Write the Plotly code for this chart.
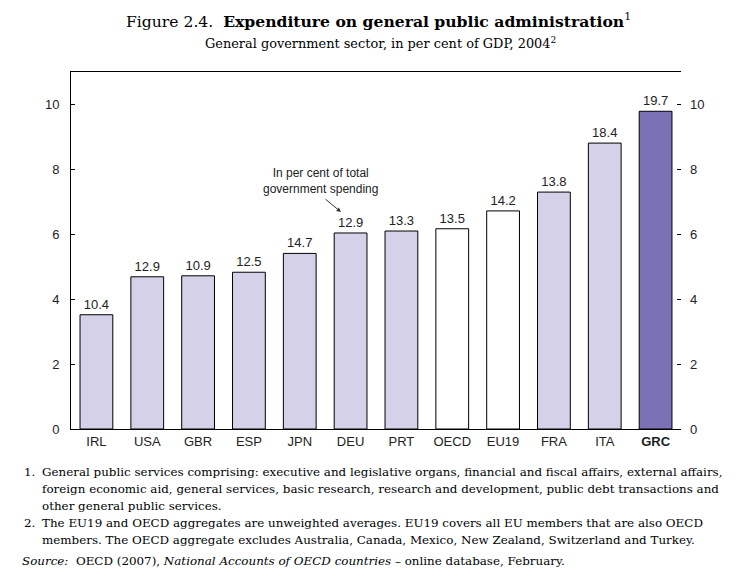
import plotly.graph_objects as go

countries = ["IRL", "USA", "GBR", "ESP", "JPN", "DEU", "PRT", "OECD", "EU19", "FRA", "ITA", "GRC"]
gdp_share = [3.52, 4.69, 4.72, 4.83, 5.41, 6.04, 6.10, 6.17, 6.72, 7.30, 8.81, 9.79]
spending_share = ["10.4", "12.9", "10.9", "12.5", "14.7", "12.9", "13.3", "13.5", "14.2", "13.8", "18.4", "19.7"]
tick_labels = ["IRL", "USA", "GBR", "ESP", "JPN", "DEU", "PRT", "OECD", "EU19", "FRA", "ITA", "<b>GRC</b>"]

LIGHT = "#d4d1e8"
DARK = "#7a72b4"
colors = []
for c in countries:
    if c == "GRC":
        colors.append(DARK)
    elif c in ("OECD", "EU19"):
        colors.append("white")
    else:
        colors.append(LIGHT)

fig = go.Figure()
fig.add_trace(go.Bar(
    x=countries, y=gdp_share,
    text=spending_share, textposition="outside", cliponaxis=False,
    textfont=dict(family="Liberation Sans", size=13, color="#222"),
    marker=dict(color=colors, line=dict(color="black", width=1)),
    showlegend=False, hoverinfo="x+y",
))
# invisible copy so that the right-hand axis is drawn
fig.add_trace(go.Bar(x=countries, y=gdp_share, yaxis="y2", opacity=0,
                     showlegend=False, hoverinfo="skip"))

# page offset from default body margin
OFF = 8
W, H = 736 - OFF, 579 - OFF
L, R, T, B = 71 - OFF, 55, 72 - OFF, 150
pw = W - L - R
ph = H - T - B

def px(x):
    return (x - OFF - L) / pw

def py(y):
    return (H - B - (y - OFF)) / ph

tickfont = dict(family="Liberation Sans", size=13, color="#222")
fig.update_layout(
    width=W, height=H,
    margin=dict(l=L, r=R, t=T, b=B),
    paper_bgcolor="white", plot_bgcolor="white",
    bargap=0.355,
    barmode="overlay",
    xaxis=dict(tickmode="array", tickvals=countries, ticktext=tick_labels,
               showline=True, linecolor="black", linewidth=1, mirror=True,
               ticks="", tickfont=tickfont, showgrid=False),
    yaxis=dict(range=[0, 11], tickvals=[0, 2, 4, 6, 8, 10], ticks="inside",
               ticklen=4, tickcolor="black", showline=True, linecolor="black",
               showgrid=False, zeroline=False, tickfont=tickfont, ticklabelstandoff=8),
    yaxis2=dict(range=[0, 11], tickvals=[0, 2, 4, 6, 8, 10], ticks="inside",
                ticklen=4, tickcolor="black", overlaying="y", side="right",
                showgrid=False, zeroline=False, tickfont=tickfont, ticklabelstandoff=8),
)

serif = "DejaVu Serif"
ann = []
ann.append(dict(text="Figure 2.4.  <b>Expenditure on general public administration</b><sup>1</sup>",
                x=px(378), y=py(20), xref="paper", yref="paper", showarrow=False,
                font=dict(family=serif, size=15.6, color="black"), xanchor="center", yanchor="middle"))
ann.append(dict(text="General government sector, in per cent of GDP, 2004<sup>2</sup>",
                x=px(380), y=py(43), xref="paper", yref="paper", showarrow=False,
                font=dict(family=serif, size=12.9, color="black"), xanchor="center", yanchor="middle"))
ann.append(dict(text="In per cent of total<br>government spending",
                x=px(320), y=py(181), xref="paper", yref="paper", showarrow=False,
                font=dict(family="Liberation Sans", size=12, color="#222"),
                xanchor="center", yanchor="middle"))
ann.append(dict(text="", x=px(341), y=py(212), xref="paper", yref="paper",
                showarrow=True, ax=-17, ay=-14, arrowhead=2, arrowsize=0.9,
                arrowwidth=1, arrowcolor="#333"))

fn = dict(family=serif, size=11.9, color="black")
lines = [
    (22, 472, "1."),
    (40, 472, "General public services comprising: executive and legislative organs, financial and fiscal affairs, external affairs,"),
    (40, 489, "foreign economic aid, general services, basic research, research and development, public debt transactions and"),
    (40, 506, "other general public services."),
    (22, 523, "2."),
    (40, 523, "The EU19 and OECD aggregates are unweighted averages. EU19 covers all EU members that are also OECD"),
    (40, 540, "members. The OECD aggregate excludes Australia, Canada, Mexico, New Zealand, Switzerland and Turkey."),
    (20, 561, "<i>Source:</i>  OECD (2007), <i>National Accounts of OECD countries</i> – online database, February."),
]
for x, y, t in lines:
    ann.append(dict(text=t, x=px(x), y=py(y), xref="paper", yref="paper", showarrow=False,
                    font=fn, xanchor="left", yanchor="middle"))

fig.update_layout(annotations=ann)
fig.write_html("out.html")
